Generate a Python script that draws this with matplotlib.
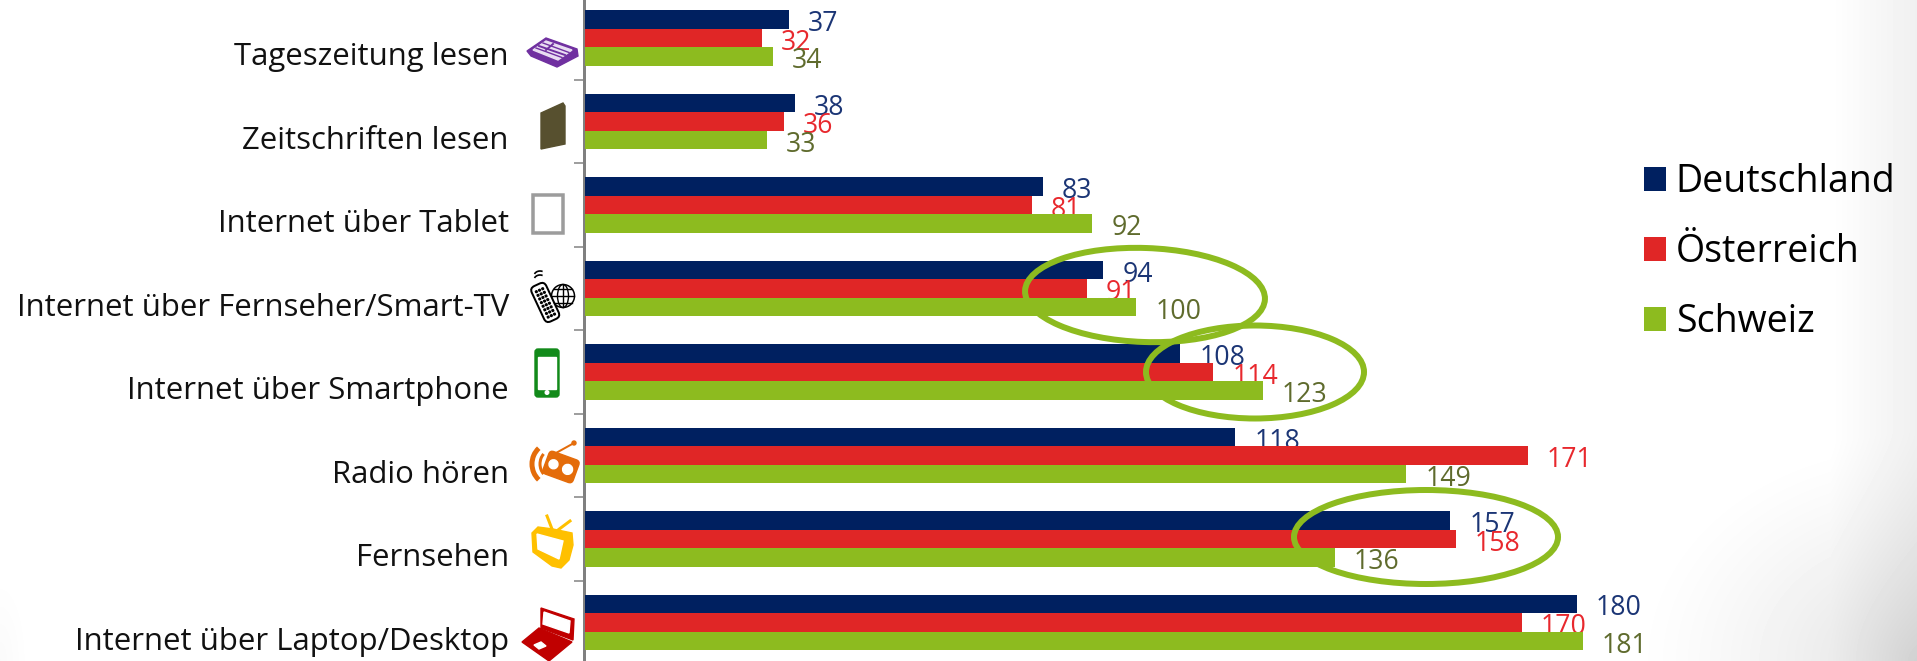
import numpy as np
import matplotlib
matplotlib.use('Agg')
import matplotlib.pyplot as plt
from matplotlib.patches import Ellipse, Polygon, Rectangle, Circle, FancyBboxPatch, Arc
from matplotlib.transforms import ScaledTranslation, Affine2D

plt.rcParams['font.family'] = ['Open Sans', 'DejaVu Sans']

categories = ['Tageszeitung lesen', 'Zeitschriften lesen', 'Internet über Tablet',
              'Internet über Fernseher/Smart-TV', 'Internet über Smartphone',
              'Radio hören', 'Fernsehen', 'Internet über Laptop/Desktop']
deutschland = [37, 38, 83, 94, 108, 118, 157, 180]
oesterreich = [32, 36, 81, 91, 114, 171, 158, 170]
schweiz = [34, 33, 92, 100, 123, 149, 136, 181]

W, H = 1917, 661
PX = 72 / 100  # ein Pixel in Punkt
NAVY, RED, GREEN = '#002060', '#E02626', '#8DBB1F'
LAB_NAVY, LAB_RED, LAB_GREEN = '#1B3575', '#E8282D', '#5F6B2D'

fig = plt.figure(figsize=(W / 100, H / 100), dpi=100, facecolor='white')

# Hintergrund: grauer Verlauf am Rand
bg = fig.add_axes([0, 0, 1, 1], zorder=-1)
xx, yy = np.meshgrid(np.arange(W), np.arange(H))
strip = 0.06 * np.clip((xx - 1830) / 87, 0, 1)
r1 = np.sqrt(((xx - W) / 290) ** 2 + ((yy - H) / 230) ** 2)
corner = 0.12 * np.clip(1 - r1, 0, 1) ** 1.3
r2 = np.sqrt((xx / 30) ** 2 + ((yy - H) / 90) ** 2)
left = 0.02 * np.clip(1 - r2, 0, 1)
bg.imshow(1 - strip - corner - left, cmap='gray', vmin=0, vmax=1, aspect='auto')
bg.axis('off')

# Balken
left_px, top_px, bottom_px = 585.3, -3.6, 664.3
scale = 5.51
ax = fig.add_axes([left_px / W, (H - bottom_px) / H, 1300 / W, (bottom_px - top_px) / H], zorder=1)
ax.patch.set_alpha(0)
ax.set_xlim(0, 1300 / scale)
ax.set_ylim(7.5, -0.5)

y = np.arange(len(categories))
h = 0.2225
series = [(deutschland, NAVY, LAB_NAVY, 'Deutschland', -h),
          (oesterreich, RED, LAB_RED, 'Österreich', 0),
          (schweiz, GREEN, LAB_GREEN, 'Schweiz', h)]
for values, color, lab_color, name, off in series:
    bars = ax.barh(y + off, values, height=h, color=color, label=name, zorder=3)
    labels = ax.bar_label(bars, padding=19 * PX, color=lab_color, fontsize=19.2)
    for t in labels:
        t.xyann = (t.xyann[0], -4.5 * PX)

for side in ['top', 'right', 'bottom']:
    ax.spines[side].set_visible(False)
ax.spines['left'].set_color('#808080')
ax.spines['left'].set_linewidth(3 * PX)
ax.spines['left'].set_position(('outward', 1.5 * PX))
ax.set_xticks([])
ax.set_yticks(y, categories, fontsize=22.4, color='#111111', va='baseline')
ax.set_yticks(y[:-1] + 0.5, minor=True)
ax.tick_params(axis='y', which='major', length=0, pad=75 * PX)
ax.tick_params(axis='y', which='minor', length=10 * PX, width=1.5 * PX, color='#808080')
shift = ScaledTranslation(0, -27 / 100, fig.dpi_scale_trans)
for lab in ax.get_yticklabels():
    lab.set_transform(lab.get_transform() + shift)

leg = ax.legend(loc='upper left', bbox_to_anchor=(1643.5 / W, 1 - 163 / H),
                bbox_transform=fig.transFigure, frameon=False, fontsize=27,
                handlelength=0.6, handleheight=0.6, handletextpad=0.26,
                labelspacing=0.86, borderpad=0, borderaxespad=0)

# Overlay in Pixelkoordinaten: Ellipsen und Icons
ov = fig.add_axes([0, 0, 1, 1], zorder=2)
ov.set_xlim(0, W)
ov.set_ylim(H, 0)
ov.axis('off')

for cx, cy, ew, eh, ang in [(1145, 295, 240, 94, 2), (1255, 372, 218, 93, 0), (1426, 537, 264, 94, 0)]:
    ov.add_patch(Ellipse((cx, cy), ew, eh, angle=ang, fill=False, ec=GREEN, lw=6 * PX))

# Zeitung
purple = '#7030A0'
ov.add_patch(Polygon([(527, 51), (546, 38), (577, 49), (578, 56), (557, 67), (531, 56)], color=purple))
ov.add_patch(Polygon([(533, 50), (546, 41), (572, 50), (558, 60)], color='#E9DDF2'))
ov.plot([539, 565], [46, 55], color=purple, lw=1.4)
ov.plot([536, 562], [48, 57.5], color=purple, lw=1.0)
ov.plot([543, 569], [43, 52.5], color=purple, lw=1.0)
ov.plot([546, 553], [50, 44], color=purple, lw=1.4)
# Heft
ov.add_patch(Polygon([(541, 113), (563, 103), (565, 106), (565, 144), (541, 149)], color='#57502F'))
# Tablet
ov.add_patch(Rectangle((532.5, 194.5), 30, 38, fill=False, ec='#9C9C9C', lw=3.5 * PX))
# Fernbedienung und Globus
ov.add_patch(Circle((563, 296), 11.5, fc='white', ec='black', lw=1.5 * PX))
ov.plot([552, 574], [296, 296], color='black', lw=1)
ov.plot([554, 572], [289, 289], color='black', lw=1)
ov.plot([554, 572], [303, 303], color='black', lw=1)
ov.add_patch(Ellipse((563, 296), 11, 23, fill=False, ec='black', lw=1))
ov.plot([563, 563], [285, 307], color='black', lw=1)
rem = Affine2D().rotate_deg(-25).translate(545, 302) + ov.transData
ov.add_patch(FancyBboxPatch((-7, -18), 14, 37, boxstyle='round,pad=1,rounding_size=5', fc='white', ec='black',
                            lw=2 * PX, transform=rem))
for dx in [-3.5, 0, 3.5]:
    for dy in [-13, -9, -5, -1, 3, 7, 11, 15]:
        ov.add_patch(Rectangle((dx - 0.8, dy - 0.8), 1.6, 1.6, color='black', transform=rem))
ov.add_patch(Arc((540, 280), 12, 10, theta1=200, theta2=300, color='black', lw=1.2))
ov.add_patch(Arc((540, 276), 12, 10, theta1=200, theta2=300, color='black', lw=1.2))
# Smartphone
ov.add_patch(FancyBboxPatch((536, 350), 22, 46, boxstyle='round,pad=1,rounding_size=3', color='#128A1A'))
ov.add_patch(Rectangle((538, 357), 18, 32, color='white'))
ov.add_patch(Circle((547, 392.5), 1.8, color='white'))
# Radio
orange = '#E46C0A'
radio = Affine2D().rotate_deg(20).translate(561, 467) + ov.transData
ov.add_patch(FancyBboxPatch((-14, -10), 28, 20, boxstyle='round,pad=2,rounding_size=4', color=orange, transform=radio))
ov.add_patch(Circle((-8, 0), 4.5, color='white', transform=radio))
ov.add_patch(Circle((7, 0), 5, color='white', transform=radio))
ov.plot([556, 574], [453, 443], color=orange, lw=2 * PX, solid_capstyle='round')
ov.add_patch(Circle((574, 443), 2, color=orange))
ov.add_patch(Arc((552, 464), 40, 42, theta1=130, theta2=230, color=orange, lw=5 * PX))
ov.add_patch(Arc((552, 464), 24, 28, theta1=130, theta2=230, color=orange, lw=3 * PX))
# Fernseher
yellow = '#FFC000'
ov.add_patch(Polygon([(532, 533), (538, 527), (553, 529), (572, 533), (573, 545), (569, 560), (561, 568),
                      (552, 566), (533, 552)], color=yellow))
ov.add_patch(Polygon([(537, 534), (563, 541), (559, 559), (538, 549)], color='white'))
ov.plot([547, 552], [516, 529], color=yellow, lw=3 * PX)
ov.plot([558, 570], [530, 521], color=yellow, lw=3 * PX)
# Laptop
darkred = '#C00000'
ov.add_patch(Polygon([(541, 608), (574, 619), (573, 640), (541, 628)], color=darkred))
ov.add_patch(Polygon([(544, 612), (570, 621), (569, 633), (543, 624)], color='white'))
ov.add_patch(Polygon([(522, 642), (539, 628), (572, 642), (549, 661)], color=darkred))
ov.add_patch(Polygon([(534, 645), (541, 642), (546, 646), (539, 649)], color='white'))

fig.savefig('out.png', dpi=100)
